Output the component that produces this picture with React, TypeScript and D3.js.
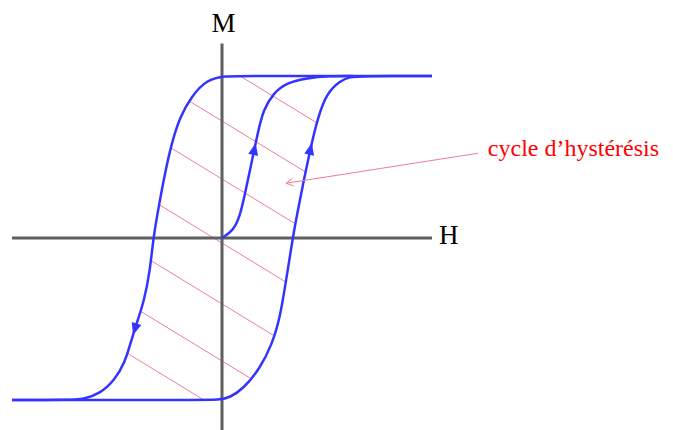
import React, { useRef, useEffect } from 'react';
import * as d3 from 'd3';

// points, as [H, M] (M = 1 at saturation)
const descendingBranch: [number, number][] = [
  [6, 1], [0.6, 1], [0.1, 1], [-0.44, 0.978], [-0.87, 0.874], [-1.2, 0.749], [-1.44, 0.585],
  [-1.63, 0.399], [-1.79, 0.214], [-1.96, 0.008], [-2.06, -0.208], [-2.23, -0.393],
  [-2.44, -0.527], [-2.63, -0.66], [-2.77, -0.764], [-3.06, -0.877], [-3.49, -0.962],
  [-3.96, -0.995], [-4.34, -1], [-6, -1],
];

const ascendingBranch: [number, number][] = [
  [-6, -1], [-0.6, -1], [-0.1, -1], [0.23, -0.985], [0.61, -0.93], [1.09, -0.804], [1.42, -0.66],
  [1.66, -0.496], [1.87, -0.208], [2.02, -0.002], [2.15, 0.152], [2.32, 0.338],
  [2.56, 0.585], [2.75, 0.749], [2.99, 0.893], [3.37, 0.97], [3.66, 0.995], [3.95, 1], [6, 1],
];

const virginCurve: [number, number][] = [
  [0, 0], [0.32, 0.045], [0.51, 0.131], [0.66, 0.276], [0.8, 0.42], [1.04, 0.667],
  [1.18, 0.79], [1.47, 0.895], [1.85, 0.958], [2.42, 0.988], [3.09, 1], [3.74, 1],
];

// M where each hatch line crosses the M axis
const hatchOffsets = [1.068, 0.722, 0.364, -0.031, -0.407, -0.759, -1.068];

// arrow tips: which branch, at which M
const arrowTips = [
  { branch: 'virgin', m: 0.585 },
  { branch: 'ascending', m: 0.585 },
  { branch: 'descending', m: -0.599 },
];

const hExtent = [-6, 6];
const mExtent = [-1.19, 1.2];

const annotationFrom: [number, number] = [7.31, 0.523];
const annotationTo: [number, number] = [1.83, 0.338];
const annotationText = 'cycle d\u2019hystérésis';

const BLUE = '#3434ff';
const PINK = '#ee7b9e';
const GREY = '#5f5f5f';
const FONT = '"Liberation Serif", "Times New Roman", serif';
const HATCH_SLOPE = 0.61;

const W = 673;
const H = 430;

const App = () => {
  const svgRef = useRef<SVGSVGElement>(null);

  useEffect(() => {
    const svg = d3.select(svgRef.current);
    svg.selectAll('*').remove();

    const x = d3.scaleLinear().domain([-6, 6]).range([12, 432]);
    const y = d3.scaleLinear().domain([-1, 1]).range([400, 76]);

    const line = d3.line<[number, number]>()
      .x(d => x(d[0]))
      .y(d => y(d[1]))
      .curve(d3.curveBasis);

    const descD = line(descendingBranch) as string;
    const ascD = line(ascendingBranch) as string;
    const virD = line(virginCurve) as string;

    // clip for the hatching = inside of the loop
    svg.append('defs')
      .append('clipPath')
      .attr('id', 'loop')
      .append('path')
      .attr('d', descD + ascD.replace(/^M/, 'L') + 'Z');

    const hatch = svg.append('g').attr('clip-path', 'url(#loop)');
    hatchOffsets.forEach(m0 => {
      const x0 = x(0);
      const y0 = y(m0);
      hatch.append('line')
        .attr('x1', 0)
        .attr('y1', y0 - HATCH_SLOPE * x0)
        .attr('x2', W)
        .attr('y2', y0 + HATCH_SLOPE * (W - x0))
        .attr('stroke', PINK)
        .attr('stroke-width', 1);
    });

    // axes
    svg.append('line')
      .attr('x1', x(hExtent[0])).attr('x2', x(hExtent[1]))
      .attr('y1', y(0)).attr('y2', y(0))
      .attr('stroke', GREY).attr('stroke-width', 3);
    svg.append('line')
      .attr('x1', x(0)).attr('x2', x(0))
      .attr('y1', y(mExtent[1])).attr('y2', y(mExtent[0]))
      .attr('stroke', GREY).attr('stroke-width', 3);

    // curves
    const paths: Record<string, SVGPathElement> = {};
    [['descending', descD], ['ascending', ascD], ['virgin', virD]].forEach(([name, d]) => {
      paths[name] = svg.append('path')
        .attr('d', d)
        .attr('fill', 'none')
        .attr('stroke', BLUE)
        .attr('stroke-width', 2.5)
        .node() as SVGPathElement;
    });

    // direction arrows
    arrowTips.forEach(({ branch, m }) => {
      const node = paths[branch];
      const total = node.getTotalLength();
      const ty = y(m);
      let best = 0;
      let bestD = Infinity;
      for (let l = 0; l <= total; l += 0.5) {
        const p = node.getPointAtLength(l);
        const dist = Math.abs(p.y - ty);
        if (dist < bestD) { bestD = dist; best = l; }
      }
      const p = node.getPointAtLength(best);
      const a = node.getPointAtLength(Math.max(0, best - 3));
      const b = node.getPointAtLength(Math.min(total, best + 3));
      const ang = Math.atan2(b.y - a.y, b.x - a.x) * 180 / Math.PI;
      svg.append('path')
        .attr('d', 'M0,0L-12,-5L-12,5Z')
        .attr('transform', `translate(${p.x},${p.y}) rotate(${ang})`)
        .attr('fill', BLUE);
    });

    // annotation arrow
    const sx = x(annotationFrom[0]), sy = y(annotationFrom[1]);
    const tx = x(annotationTo[0]), ty = y(annotationTo[1]);
    svg.append('line')
      .attr('x1', sx).attr('y1', sy).attr('x2', tx).attr('y2', ty)
      .attr('stroke', PINK).attr('stroke-width', 1);
    const back = Math.atan2(sy - ty, sx - tx);
    [-0.5, 0.5].forEach(da => {
      svg.append('line')
        .attr('x1', tx).attr('y1', ty)
        .attr('x2', tx + 8 * Math.cos(back + da))
        .attr('y2', ty + 8 * Math.sin(back + da))
        .attr('stroke', PINK).attr('stroke-width', 1);
    });

    // labels
    svg.append('text')
      .attr('x', x(0) + 1.5).attr('y', 32)
      .attr('text-anchor', 'middle')
      .style('font-family', FONT).style('font-size', '27px')
      .text('M');
    svg.append('text')
      .attr('x', x(hExtent[1]) + 7).attr('y', y(0) + 5.5)
      .style('font-family', FONT).style('font-size', '27px')
      .text('H');
    svg.append('text')
      .attr('x', sx + 10).attr('y', sy + 2.5)
      .attr('fill', 'red')
      .style('font-family', FONT).style('font-size', '24px')
      .text(annotationText);
  }, []);

  return (
    <svg
      ref={svgRef}
      width={W}
      height={H}
      style={{ position: 'absolute', left: 0, top: 0, background: '#fff' }}
    />
  );
};

export default App;
